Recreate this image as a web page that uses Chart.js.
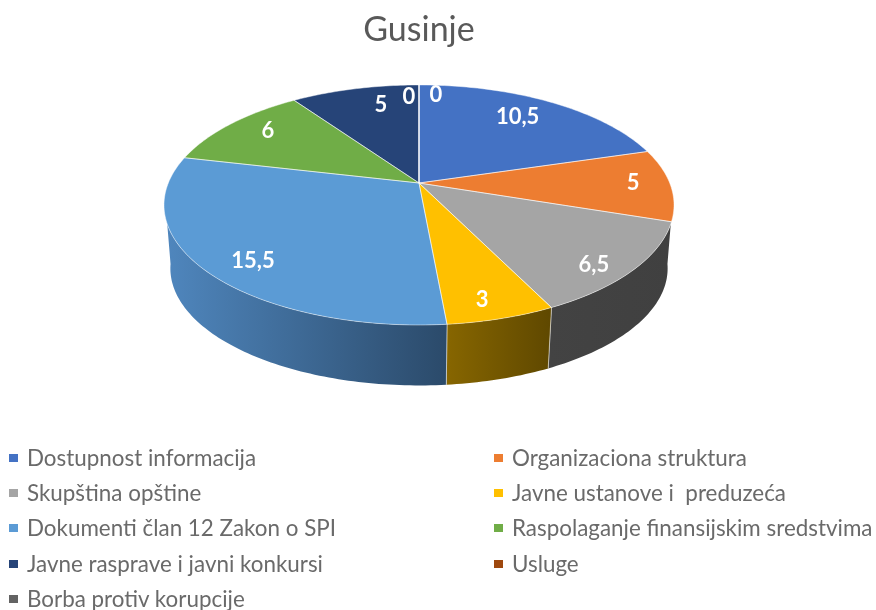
<!DOCTYPE html>
<html>
<head>
<meta charset="utf-8">
<title>Gusinje</title>
<script src="https://cdn.jsdelivr.net/npm/chart.js@4"></script>
<style>
    body { margin: 0; background: #fff; width: 876px; height: 610px; overflow: hidden; position: relative; font-family: Lato, sans-serif; }
    #wrap { position: absolute; left: 0; top: 0; width: 838px; height: 610px; }
    .item { position: absolute; font-size: 22.4px; line-height: 26px; color: #6a6a6a; white-space: pre; }
    .item i { position: absolute; left: -18px; top: 9px; width: 9px; height: 8px; }
</style>
</head>
<body>
<div id="wrap"><canvas id="chart" width="838" height="610"></canvas></div>
<div id="legend"></div>
<script>
const chartTitle = 'Gusinje';
const categories = [
    'Dostupnost informacija', 'Organizaciona struktura', 'Skupština opštine',
    'Javne ustanove i  preduzeća', 'Dokumenti član 12 Zakon o SPI', 'Raspolaganje finansijskim sredstvima',
    'Javne rasprave i javni konkursi', 'Usluge', 'Borba protiv korupcije'
];
const values = [10.5, 5, 6.5, 3, 15.5, 6, 5, 0, 0];
const colors = ['#4472C4', '#ED7D31', '#A5A5A5', '#FFC000', '#5B9BD5', '#70AD47', '#264478', '#9E480E', '#636363'];

//side wall shades, light end on the left of the slice and dark end on the right
const wallLeft = ['#2a4478', '#8e4b1d', '#434343', '#876600', '#4f86bd', '#43682b', '#172948', '#5f2b08', '#3b3b3b'];
const wallRight = ['#2a4478', '#8e4b1d', '#404040', '#5f4800', '#2b4a6a', '#43682b', '#172948', '#5f2b08', '#3b3b3b'];

//the pie is seen in perspective, so the centre is not the middle of the ellipse
const view = { x: 419, y: 183, a: 250.7, b: 116, p: 0.183, bottomScale: 0.975, depth: 64 };
//range of the outer edge where the wall shows, degrees clockwise from the top
const wallFrom = 109.4;
const wallTo = 250.6;
//the lower rim goes a bit further round than the upper one
const wallExtra = 11;
const labelRadius = 0.82;
//small moves so the labels land where the original has them
const labelNudge = [[-11, 2], [8, -2], [3, 13], [-2, 10], [6, 9], [6, -3], [16, 1], [-10, -3], [17, -5]];

function project(deg, r) {
    const t = deg * Math.PI / 180;
    const u = r * Math.sin(t);
    const v = -r * Math.cos(t);
    const w = 1 - view.p * v;
    return [view.x + view.a * u / w, view.y + view.b * v / w];
}

function projectBottom(deg) {
    const pt = project(deg, 1);
    return [view.x + (pt[0] - view.x) * view.bottomScale, view.y + (pt[1] - view.y) * view.bottomScale + view.depth];
}

function toDeg(angle) {
    return (angle + Math.PI / 2) * 180 / Math.PI;
}

function edgePoints(from, to, fn) {
    const pts = [];
    const steps = Math.max(1, Math.ceil(to - from));
    for (let i = 0; i <= steps; i++) {
        pts.push(fn(from + (to - from) * i / steps));
    }
    return pts;
}

const pie3d = {
    id: 'pie3d',
    beforeDatasetsDraw(chart) {
        const ctx = chart.ctx;
        const arcs = chart.getDatasetMeta(0).data;
        ctx.save();
        ctx.lineJoin = 'round';

        //walls first, the top goes over them
        arcs.forEach((arc, i) => {
            const start = toDeg(arc.startAngle);
            const end = toDeg(arc.endAngle);
            const from = Math.max(start, wallFrom);
            const to = Math.min(end, wallTo);
            if (to <= from) return;
            const openLeft = start <= wallFrom;
            const openRight = end >= wallTo;
            const top = edgePoints(from, to, d => project(d, 1));
            const bottom = edgePoints(openLeft ? from - wallExtra : from, openRight ? to + wallExtra : to, projectBottom).reverse();
            const outline = top.concat(bottom);
            const xs = outline.map(pt => pt[0]);
            const grad = ctx.createLinearGradient(Math.min(...xs), 0, Math.max(...xs), 0);
            grad.addColorStop(0, wallLeft[i]);
            grad.addColorStop(1, wallRight[i]);
            ctx.beginPath();
            outline.forEach((pt, n) => n ? ctx.lineTo(pt[0], pt[1]) : ctx.moveTo(pt[0], pt[1]));
            ctx.closePath();
            ctx.fillStyle = grad;
            ctx.fill();
            ctx.strokeStyle = 'rgba(255,255,255,0.45)';
            ctx.lineWidth = 1;
            ctx.beginPath();
            if (!openLeft) {
                ctx.moveTo(top[0][0], top[0][1]);
                ctx.lineTo(bottom[bottom.length - 1][0], bottom[bottom.length - 1][1]);
            }
            if (!openRight) {
                ctx.moveTo(top[top.length - 1][0], top[top.length - 1][1]);
                ctx.lineTo(bottom[0][0], bottom[0][1]);
            }
            ctx.stroke();
        });

        //top face of every slice, zero slices end up as a thin line
        arcs.forEach((arc, i) => {
            const pts = edgePoints(toDeg(arc.startAngle), toDeg(arc.endAngle), d => project(d, 1));
            ctx.beginPath();
            ctx.moveTo(view.x, view.y);
            pts.forEach(pt => ctx.lineTo(pt[0], pt[1]));
            ctx.closePath();
            ctx.fillStyle = colors[i];
            ctx.fill();
        });
        arcs.forEach(arc => {
            const pts = edgePoints(toDeg(arc.startAngle), toDeg(arc.endAngle), d => project(d, 1));
            ctx.beginPath();
            ctx.moveTo(view.x, view.y);
            pts.forEach(pt => ctx.lineTo(pt[0], pt[1]));
            ctx.closePath();
            ctx.strokeStyle = 'rgba(255,255,255,0.45)';
            ctx.lineWidth = 1;
            ctx.stroke();
        });
        ctx.restore();
        return false;
    },
    //not afterDatasetsDraw, that one is skipped once beforeDatasetsDraw returns false
    afterDraw(chart) {
        const ctx = chart.ctx;
        ctx.save();
        ctx.font = 'bold 22px Lato, sans-serif';
        ctx.fillStyle = '#fff';
        ctx.textAlign = 'center';
        ctx.textBaseline = 'middle';
        chart.getDatasetMeta(0).data.forEach((arc, i) => {
            const mid = (toDeg(arc.startAngle) + toDeg(arc.endAngle)) / 2;
            const pt = project(mid, labelRadius);
            ctx.fillText(String(values[i]).replace('.', ','), pt[0] + labelNudge[i][0], pt[1] + labelNudge[i][1]);
        });
        ctx.restore();
    }
};

const ctx = document.getElementById('chart').getContext('2d');
const myChart = new Chart(ctx, {
    type: 'pie',
    data: {
        labels: categories,
        datasets: [{
            data: values,
            backgroundColor: colors,
            borderWidth: 0
        }]
    },
    options: {
        responsive: false,
        animation: false,
        plugins: {
            legend: { display: false },
            tooltip: { enabled: false },
            title: {
                display: true,
                text: chartTitle,
                color: '#595959',
                font: { family: 'Lato, sans-serif', size: 34, weight: 'normal' },
                padding: { top: 10, bottom: 10 }
            }
        }
    },
    plugins: [pie3d]
});

//legend is two columns filled row by row, chart.js can't do this on its own
const legend = document.getElementById('legend');
categories.forEach((name, i) => {
    const item = document.createElement('div');
    item.className = 'item';
    item.style.left = (i % 2 ? 512 : 27) + 'px';
    item.style.top = (445 + Math.floor(i / 2) * 35.2) + 'px';
    item.textContent = name;
    const box = document.createElement('i');
    box.style.background = colors[i];
    item.prepend(box);
    legend.appendChild(item);
});
</script>
</body>
</html>
